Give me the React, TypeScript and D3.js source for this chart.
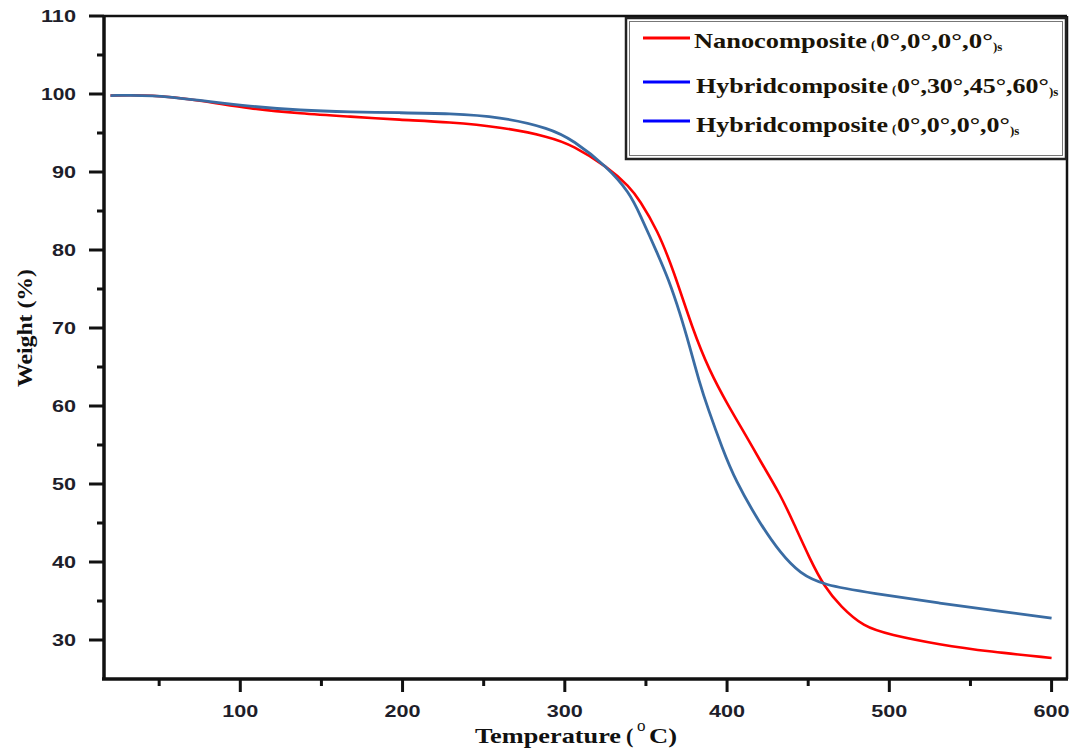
import React from "react";
import * as d3 from "d3";

const redTemps = [20, 45, 75, 106, 137, 168, 198, 229, 260, 291, 305, 326, 340, 346, 357, 367, 379, 389, 400, 412, 420, 433, 441, 451, 460, 470, 484, 500, 531, 562, 600];
const redWeights = [99.8, 99.9, 99.2, 98.1, 97.5, 97.1, 96.7, 96.4, 95.8, 94.5, 93.4, 90.7, 88.1, 86.4, 82.6, 77.4, 69.7, 64.6, 60.3, 56.1, 53.1, 48.6, 45.0, 40.4, 36.8, 34.3, 31.7, 30.7, 29.4, 28.5, 27.7];

const blueTemps = [20, 45, 75, 106, 137, 168, 198, 229, 260, 291, 305, 326, 340, 346, 357, 364, 371, 377, 383, 388, 397, 405, 420, 433, 445, 459, 490, 531, 572, 600];
const blueWeights = [99.8, 99.9, 99.2, 98.4, 97.9, 97.7, 97.6, 97.5, 97.1, 95.6, 94.1, 90.7, 87.3, 84.7, 79.6, 76.2, 71.9, 67.6, 63.0, 59.8, 54.6, 50.5, 45.0, 41.1, 38.5, 37.05, 36.0, 34.7, 33.6, 32.8];

const legendNames = ["Nanocomposite", "Hybridcomposite", "Hybridcomposite"];
const legendAngles = ["0°,0°,0°,0°", "0°,30°,45°,60°", "0°,0°,0°,0°"];
const legendColors = ["#ff0000", "#0000ff", "#0000ff"];

const xTicks = [100, 200, 300, 400, 500, 600];
const xMinor = [50, 150, 250, 350, 450, 550];
const yTicks = [30, 40, 50, 60, 70, 80, 90, 100, 110];
const yMinor = [35, 45, 55, 65, 75, 85, 95, 105];

const W = 1072, H = 751;
const L = 104, R = 1067, T = 16, B = 679;

export default function App() {
  const x = d3.scaleLinear().domain([16, 609.5]).range([L, R]);
  const y = d3.scaleLinear().domain([25, 110]).range([B, T]);
  const line = d3
    .line<[number, number]>()
    .x((d) => x(d[0]))
    .y((d) => y(d[1]))
    .curve(d3.curveBasis);
  const red = line(redTemps.map((t, i) => [t, redWeights[i]]))!;
  const blue = line(blueTemps.map((t, i) => [t, blueWeights[i]]))!;

  const serif = "'Liberation Serif', 'Times New Roman', serif";
  const sans = "'Liberation Sans', Arial, sans-serif";
  const nameLens = [173, 192, 192];
  const angleLens = [117, 152, 113];
  const rowY = [48, 93, 132];
  const lineY = [38, 82, 121];
  const nameX = [694, 696, 696];
  const ink = "#1a1408";

  return (
    <svg width={W} height={H} style={{ position: "absolute", left: 0, top: 0, background: "#fff" }}>
      <rect x={0} y={0} width={W} height={H} fill="#fff" />
      {/* curves */}
      <path d={red} fill="none" stroke="#ff0000" strokeWidth={2.6} />
      <path d={blue} fill="none" stroke="#3a6ca3" strokeWidth={2.8} />

      {/* frame */}
      <line x1={L} x2={R} y1={T} y2={T} stroke="#111" strokeWidth={2.5} />
      <line x1={R} x2={R} y1={T} y2={B} stroke="#111" strokeWidth={2.5} />
      <line x1={L} x2={L} y1={T - 1} y2={B + 1} stroke="#111" strokeWidth={3.5} />
      <line x1={L - 2} x2={R + 1} y1={B} y2={B} stroke="#111" strokeWidth={3.5} />

      {/* y ticks */}
      {yTicks.map((v) => (
        <g key={"y" + v}>
          <line x1={L - 15} x2={L} y1={y(v)} y2={y(v)} stroke="#111" strokeWidth={3} />
          <text
            x={76}
            y={y(v) + 6}
            textAnchor="end"
            fontFamily={sans}
            fontWeight="bold"
            fontSize={16}
            fill="#1e1e2a"
            textLength={v >= 100 ? 35 : 24}
            lengthAdjust="spacingAndGlyphs"
          >
            {v}
          </text>
        </g>
      ))}
      {yMinor.map((v) => (
        <line key={"ym" + v} x1={L - 7} x2={L} y1={y(v)} y2={y(v)} stroke="#111" strokeWidth={3} />
      ))}

      {/* x ticks */}
      {xTicks.map((v) => (
        <g key={"x" + v}>
          <line x1={x(v)} x2={x(v)} y1={B} y2={B + 13} stroke="#111" strokeWidth={3} />
          <text
            x={x(v)}
            y={717}
            textAnchor="middle"
            fontFamily={sans}
            fontWeight="bold"
            fontSize={16}
            fill="#1e1e2a"
            textLength={36}
            lengthAdjust="spacingAndGlyphs"
          >
            {v}
          </text>
        </g>
      ))}
      {xMinor.map((v) => (
        <line key={"xm" + v} x1={x(v)} x2={x(v)} y1={B} y2={B + 7} stroke="#111" strokeWidth={3} />
      ))}

      {/* axis titles */}
      <g fontFamily={serif} fontWeight="bold" fill="#111">
        <text x={475} y={743} fontSize={22} textLength={146} lengthAdjust="spacingAndGlyphs">
          Temperature
        </text>
        <text x={626} y={743} fontSize={22}>
          (
        </text>
        <text x={637} y={731} fontSize={17} fontWeight="normal">
          o
        </text>
        <text x={649} y={743} fontSize={22} textLength={28} lengthAdjust="spacingAndGlyphs">
          C)
        </text>
      </g>
      <text
        transform={`translate(32, 328) rotate(-90)`}
        textAnchor="middle"
        fontFamily={serif}
        fontWeight="bold"
        fontSize={21}
        fill="#111"
        textLength={118}
        lengthAdjust="spacingAndGlyphs"
      >
        Weight (%)
      </text>

      {/* legend */}
      <rect x={626} y={18} width={440} height={141} fill="#fff" stroke="#222" strokeWidth={2.5} />
      <rect x={629.5} y={21.5} width={433} height={134} fill="none" stroke="#777" strokeWidth={1} />
      {legendNames.map((name, i) => {
        const ax = nameX[i] + nameLens[i] + 4;
        return (
          <g key={"lg" + i}>
            <line x1={643} x2={690} y1={lineY[i]} y2={lineY[i]} stroke={legendColors[i]} strokeWidth={3} />
            <text
              x={nameX[i]}
              y={rowY[i]}
              fontFamily={serif}
              fontWeight="bold"
              fontSize={21}
              fill={ink}
              textLength={nameLens[i]}
              lengthAdjust="spacingAndGlyphs"
            >
              {name}
            </text>
            <text x={ax} y={rowY[i] + 1} fontFamily={serif} fontWeight="bold" fontSize={13} fill={ink}>
              (
            </text>
            <text
              x={ax + 5}
              y={rowY[i]}
              fontFamily={serif}
              fontWeight="bold"
              fontSize={20}
              fill={ink}
              textLength={angleLens[i]}
              lengthAdjust="spacingAndGlyphs"
            >
              {legendAngles[i]}
            </text>
            <text x={ax + 5 + angleLens[i]} y={rowY[i] + 3} fontFamily={serif} fontWeight="bold" fontSize={13} fill={ink}>
              )s
            </text>
          </g>
        );
      })}
    </svg>
  );
}
